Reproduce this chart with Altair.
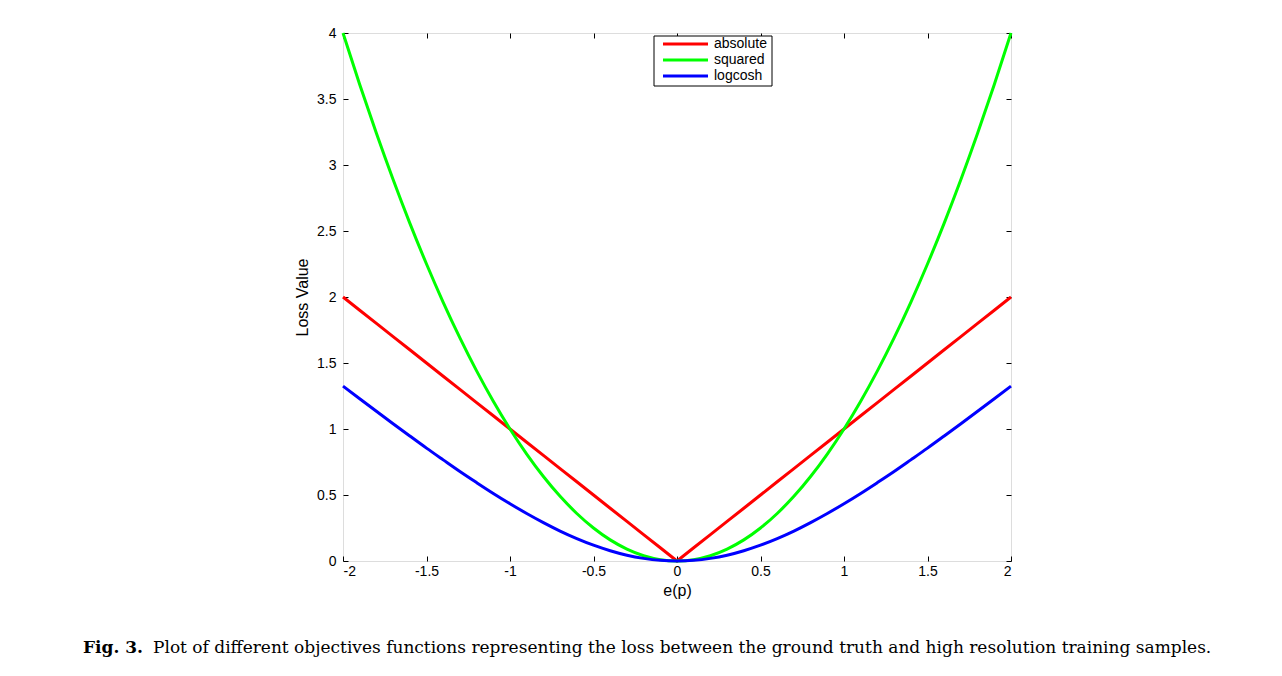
import altair as alt
import pandas as pd

# ---- data ----
x_vals = [-2.0, -1.9, -1.8, -1.7, -1.6, -1.5, -1.4, -1.3, -1.2, -1.1, -1.0,
          -0.9, -0.8, -0.7, -0.6, -0.5, -0.4, -0.3, -0.2, -0.1, 0.0,
          0.1, 0.2, 0.3, 0.4, 0.5, 0.6, 0.7, 0.8, 0.9, 1.0,
          1.1, 1.2, 1.3, 1.4, 1.5, 1.6, 1.7, 1.8, 1.9, 2.0]
absolute = [2.0, 1.9, 1.8, 1.7, 1.6, 1.5, 1.4, 1.3, 1.2, 1.1, 1.0,
            0.9, 0.8, 0.7, 0.6, 0.5, 0.4, 0.3, 0.2, 0.1, 0.0,
            0.1, 0.2, 0.3, 0.4, 0.5, 0.6, 0.7, 0.8, 0.9, 1.0,
            1.1, 1.2, 1.3, 1.4, 1.5, 1.6, 1.7, 1.8, 1.9, 2.0]
squared = [4.0, 3.61, 3.24, 2.89, 2.56, 2.25, 1.96, 1.69, 1.44, 1.21, 1.0,
           0.81, 0.64, 0.49, 0.36, 0.25, 0.16, 0.09, 0.04, 0.01, 0.0,
           0.01, 0.04, 0.09, 0.16, 0.25, 0.36, 0.49, 0.64, 0.81, 1.0,
           1.21, 1.44, 1.69, 1.96, 2.25, 2.56, 2.89, 3.24, 3.61, 4.0]
logcosh = [1.325, 1.229, 1.134, 1.040, 0.947, 0.855, 0.766, 0.678, 0.594, 0.512, 0.434,
           0.360, 0.291, 0.227, 0.170, 0.120, 0.078, 0.044, 0.020, 0.005, 0.0,
           0.005, 0.020, 0.044, 0.078, 0.120, 0.170, 0.227, 0.291, 0.360, 0.434,
           0.512, 0.594, 0.678, 0.766, 0.855, 0.947, 1.040, 1.134, 1.229, 1.325]

series_names = ["absolute", "squared", "logcosh"]
series_colors = ["#ff0000", "#00ff00", "#0000ff"]
series_interp = ["linear", "monotone", "monotone"]
x_ticks = [-2, -1.5, -1, -0.5, 0, 0.5, 1, 1.5, 2]
y_ticks = [0, 0.5, 1, 1.5, 2, 2.5, 3, 3.5, 4]
x_title = "e(p)"
y_title = "Loss Value"
caption_bold = "Fig. 3."
caption_text = ("Plot of different objectives functions representing the loss "
                "between the ground truth and high resolution training samples.")

series_values = {"absolute": absolute, "squared": squared, "logcosh": logcosh}

SANS = "Liberation Sans"
SERIF = "DejaVu Serif"

xscale = alt.Scale(domain=[-2, 2], nice=False, zero=False)
yscale = alt.Scale(domain=[0, 4], nice=False)

x_axis_main = alt.Axis(values=x_ticks, labelExpr="datum.value + ''", orient="bottom",
                       offset=-5, tickSize=5, domain=False, grid=False,
                       labelPadding=3, labelFontSize=14, labelFont=SANS, labelColor="black",
                       tickColor="black", title=x_title, titleFont=SANS, titleFontSize=16,
                       titleFontWeight="normal", titleColor="black", titlePadding=4)
y_axis_main = alt.Axis(values=y_ticks, labelExpr="datum.value + ''", orient="left",
                       offset=-5, tickSize=5, domain=False, grid=False,
                       labelPadding=7, labelFontSize=14, labelFont=SANS, labelColor="black",
                       tickColor="black", title=y_title, titleFont=SANS, titleFontSize=16,
                       titleFontWeight="normal", titleColor="black", titlePadding=6)
x_axis_top = alt.Axis(values=x_ticks, orient="top", offset=-5, tickSize=5, domain=False,
                      grid=False, labels=False, title=None, tickColor="black")
y_axis_right = alt.Axis(values=y_ticks, orient="right", offset=-5, tickSize=5, domain=False,
                        grid=False, labels=False, title=None, tickColor="black")

layers = []
for i, (name, color, interp) in enumerate(zip(series_names, series_colors, series_interp)):
    d = pd.DataFrame({"x": x_vals, "y": series_values[name], "series": name})
    if i == 0:
        xe = alt.X("x:Q", scale=xscale, axis=x_axis_main)
        ye = alt.Y("y:Q", scale=yscale, axis=y_axis_main)
    else:
        xe = alt.X("x:Q", scale=xscale, axis=None)
        ye = alt.Y("y:Q", scale=yscale, axis=None)
    layers.append(
        alt.Chart(d).mark_line(strokeWidth=3, color=color, interpolate=interp).encode(x=xe, y=ye)
    )

# extra layer carrying the top/right tick axes
d0 = pd.DataFrame({"x": x_vals, "y": absolute})
axes2 = alt.Chart(d0).mark_point(opacity=0).encode(
    x=alt.X("x:Q", scale=xscale, axis=x_axis_top),
    y=alt.Y("y:Q", scale=yscale, axis=y_axis_right),
)

# legend (manual, to match the boxed legend)
one = pd.DataFrame({"k": [0]})
legend_box = alt.Chart(one).mark_rect(fill="white", stroke="black", strokeWidth=1).encode(
    x=alt.value(311), x2=alt.value(429), y=alt.value(3), y2=alt.value(53))
legend_layers = [legend_box]
row_y = [11, 27, 43]
for name, color, ry in zip(series_names, series_colors, row_y):
    legend_layers.append(
        alt.Chart(one).mark_rule(color=color, strokeWidth=3).encode(
            x=alt.value(320), x2=alt.value(365), y=alt.value(ry)))
    legend_layers.append(
        alt.Chart(one).mark_text(text=name, align="left", baseline="middle", font=SANS,
                                 fontSize=14, color="black").encode(
            x=alt.value(371), y=alt.value(ry)))

# caption
cap1 = alt.Chart(one).mark_text(text=caption_bold, align="left", baseline="alphabetic",
                                font=SERIF, fontSize=17, fontWeight="bold", color="black").encode(
    x=alt.value(-260), y=alt.value(620))
cap2 = alt.Chart(one).mark_text(text=caption_text, align="left", baseline="alphabetic",
                                font=SERIF, fontSize=17, color="black").encode(
    x=alt.value(-190), y=alt.value(620))

chart = alt.layer(*layers, axes2, *legend_layers, cap1, cap2).resolve_axis(
    x="independent", y="independent"
).properties(
    width=668, height=528,
    padding={"left": 335, "top": 25, "right": 258, "bottom": 104},
    autosize=alt.AutoSizeParams(type="none"),
).configure_view(stroke="#222", strokeWidth=1).configure(background="white")

chart.save("out.html", embed_options={"renderer": "svg", "actions": False})
